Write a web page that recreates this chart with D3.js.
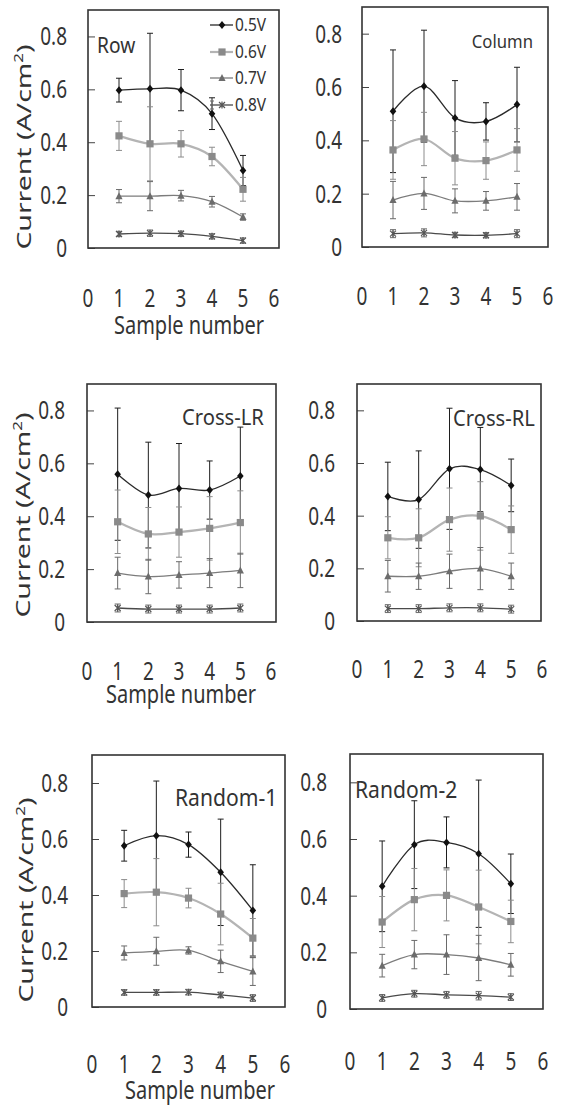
<!DOCTYPE html>
<html><head><meta charset="utf-8">
<script src="https://cdn.jsdelivr.net/npm/d3@7"></script>
<style>body{margin:0;background:#fff} svg{display:block}</style>
</head><body>
<svg id="chart" width="561" height="1108"></svg>
<script>
// ---------------- data ----------------
const samples = [1, 2, 3, 4, 5];
const seriesNames = ["0.5V", "0.6V", "0.7V", "0.8V"];
const xTickValues = [0, 1, 2, 3, 4, 5, 6];
const yTickValues = [0, 0.2, 0.4, 0.6, 0.8];
const yTickLabels = ["0", "0.2", "0.4", "0.6", "0.8"];
const panelNames = ["Row", "Column", "Cross-LR", "Cross-RL", "Random-1", "Random-2"];

const rowMeans = [
  [0.597, 0.602, 0.597, 0.508, 0.293],
  [0.424, 0.394, 0.394, 0.346, 0.222],
  [0.196, 0.196, 0.198, 0.175, 0.117],
  [0.053, 0.056, 0.054, 0.044, 0.028]];
const rowErrors = [
  [0.045, 0.21, 0.078, 0.06, 0.057],
  [0.055, 0.14, 0.05, 0.035, 0.045],
  [0.025, 0.055, 0.02, 0.02, 0.012],
  [0.01, 0.012, 0.01, 0.01, 0.01]];

const columnMeans = [
  [0.509, 0.603, 0.484, 0.471, 0.534],
  [0.364, 0.405, 0.333, 0.324, 0.364],
  [0.176, 0.201, 0.173, 0.173, 0.188],
  [0.050, 0.053, 0.045, 0.044, 0.050]];
const columnErrors = [
  [0.23, 0.21, 0.14, 0.07, 0.14],
  [0.11, 0.10, 0.10, 0.07, 0.08],
  [0.07, 0.06, 0.045, 0.035, 0.05],
  [0.015, 0.015, 0.01, 0.01, 0.015]];

const crossLRMeans = [
  [0.559, 0.480, 0.505, 0.499, 0.552],
  [0.379, 0.333, 0.340, 0.354, 0.376],
  [0.185, 0.172, 0.178, 0.185, 0.195],
  [0.053, 0.049, 0.049, 0.049, 0.053]];
const crossLRErrors = [
  [0.25, 0.20, 0.17, 0.11, 0.185],
  [0.12, 0.10, 0.095, 0.12, 0.12],
  [0.06, 0.065, 0.05, 0.055, 0.065],
  [0.015, 0.015, 0.015, 0.015, 0.015]];

const crossRLMeans = [
  [0.473, 0.461, 0.578, 0.575, 0.515],
  [0.316, 0.316, 0.385, 0.399, 0.347],
  [0.170, 0.170, 0.189, 0.199, 0.170],
  [0.047, 0.047, 0.050, 0.050, 0.045]];
const crossRLErrors = [
  [0.13, 0.185, 0.23, 0.16, 0.10],
  [0.08, 0.11, 0.12, 0.13, 0.09],
  [0.06, 0.05, 0.065, 0.08, 0.05],
  [0.015, 0.015, 0.015, 0.015, 0.015]];

const random1Means = [
  [0.576, 0.612, 0.580, 0.481, 0.345],
  [0.405, 0.410, 0.389, 0.332, 0.246],
  [0.193, 0.199, 0.202, 0.163, 0.127],
  [0.052, 0.052, 0.053, 0.043, 0.032]];
const random1Errors = [
  [0.055, 0.195, 0.045, 0.19, 0.163],
  [0.05, 0.12, 0.035, 0.11, 0.07],
  [0.025, 0.05, 0.013, 0.04, 0.05],
  [0.01, 0.01, 0.01, 0.01, 0.012]];

const random2Means = [
  [0.433, 0.580, 0.588, 0.548, 0.442],
  [0.307, 0.386, 0.401, 0.360, 0.309],
  [0.153, 0.192, 0.192, 0.180, 0.156],
  [0.039, 0.054, 0.050, 0.047, 0.042]];
const random2Errors = [
  [0.16, 0.155, 0.09, 0.26, 0.105],
  [0.09, 0.11, 0.09, 0.13, 0.075],
  [0.04, 0.05, 0.07, 0.08, 0.04],
  [0.012, 0.012, 0.012, 0.015, 0.012]];

const panelMeans = [rowMeans, columnMeans, crossLRMeans, crossRLMeans, random1Means, random2Means];
const panelErrors = [rowErrors, columnErrors, crossLRErrors, crossRLErrors, random1Errors, random2Errors];

// ---------------- layout (positions / styles) ----------------
const layout = [
  {x0: 88,  x6: 274, right: 279, yBot: 248, yTop: 10,  tickR: 67,  xLab: 307,  title: {x: 31, y: 147},  sample: {x: 189, y: 334}, lab: {x: 97,  y: 53,  size: 19.2, anchor: "start"}},
  {x0: 362, x6: 548, right: 548, yBot: 247, yTop: 7,   tickR: 342, xLab: 305,  title: null, sample: null, lab: {x: 533, y: 48,  size: 16.7, anchor: "end"}},
  {x0: 87,  x6: 271, right: 276, yBot: 622, yTop: 384, tickR: 65,  xLab: 680,  title: {x: 30, y: 515},  sample: {x: 181, y: 703}, lab: {x: 182, y: 425, size: 20.2, anchor: "start"}},
  {x0: 357, x6: 542, right: 541, yBot: 621, yTop: 384, tickR: 335, xLab: 678,  title: null, sample: null, lab: {x: 453, y: 426, size: 20.2, anchor: "start"}},
  {x0: 92,  x6: 285, right: 285, yBot: 1007, yTop: 755, tickR: 68, xLab: 1073, title: {x: 33, y: 900}, sample: {x: 200, y: 1099}, lab: {x: 175, y: 806, size: 21.1, anchor: "start"}},
  {x0: 350, x6: 543, right: 543, yBot: 1009, yTop: 754, tickR: 327, xLab: 1070, title: null, sample: null, lab: {x: 355, y: 798, size: 21.1, anchor: "start"}}
];

const FONT = "'Noto Sans', 'Open Sans', sans-serif";
const TXT = "#333";
const seriesStyle = [
  {line: "#2a2a2a", lw: 1.3, bar: "#1e1e1e", marker: "diamond",  fill: "#111"},
  {line: "#b4b4b4", lw: 2.2, bar: "#8c8c8c", marker: "square",   fill: "#8a8a8a"},
  {line: "#7c7c7c", lw: 1.3, bar: "#6a6a6a", marker: "triangle", fill: "#6c6c6c"},
  {line: "#4a4a4a", lw: 1.3, bar: "#6a6a6a", marker: "star",     fill: "#555"}
];

const svg = d3.select("#chart");

function stretchedText(g, x, y, str, size, sy, anchor) {
  return g.append("text")
    .attr("transform", `translate(${x},${y}) scale(1,${sy})`)
    .attr("text-anchor", anchor)
    .attr("font-family", FONT)
    .attr("font-size", size)
    .attr("fill", TXT)
    .text(str);
}

function drawMarker(g, type, x, y, st) {
  if (type === "diamond") {
    g.append("path").attr("d", `M${x},${y-4}L${x+3.3},${y}L${x},${y+4}L${x-3.3},${y}Z`).attr("fill", st.fill);
  } else if (type === "square") {
    g.append("rect").attr("x", x - 3.6).attr("y", y - 3.6).attr("width", 7.2).attr("height", 7.2).attr("fill", st.fill);
  } else if (type === "triangle") {
    g.append("path").attr("d", `M${x},${y-4}L${x+3.6},${y+3}L${x-3.6},${y+3}Z`).attr("fill", st.fill);
  } else {
    const s = 3;
    g.append("path")
      .attr("d", `M${x-s},${y-s}L${x+s},${y+s}M${x-s},${y+s}L${x+s},${y-s}M${x},${y-s-0.5}L${x},${y+s+0.5}`)
      .attr("stroke", st.fill).attr("stroke-width", 1.2).attr("fill", "none");
  }
}

panelNames.forEach((name, p) => {
  const L = layout[p];
  const means = panelMeans[p];
  const errs = panelErrors[p];
  const x = d3.scaleLinear().domain([0, 6]).range([L.x0, L.x6]);
  const y = d3.scaleLinear().domain([0, 0.9]).range([L.yBot, L.yTop]);
  const g = svg.append("g");

  const clipId = "clip" + p;
  svg.append("clipPath").attr("id", clipId)
    .append("rect").attr("x", L.x0).attr("y", L.yTop).attr("width", L.right - L.x0).attr("height", L.yBot - L.yTop);

  // y axis ticks (inside) via d3 axis
  const yAxis = d3.axisRight(y).tickValues(yTickValues).tickSize(7).tickFormat("");
  const ya = g.append("g").attr("transform", `translate(${L.x0},0)`).call(yAxis);
  ya.select(".domain").remove();
  ya.selectAll(".tick line").attr("stroke", "#444").attr("stroke-width", 1);

  // y tick labels
  yTickValues.forEach((v, i) => {
    stretchedText(g, L.tickR, y(v) + 9, yTickLabels[i], 19, 1.32, "end");
  });
  // x tick labels (detached below plot)
  xTickValues.forEach(v => {
    stretchedText(g, x(v), L.xLab, String(v), 19, 1.32, "middle");
  });

  const plot = g.append("g").attr("clip-path", `url(#${clipId})`);
  const line = d3.line().x((d, i) => x(samples[i])).y(d => y(d)).curve(d3.curveCardinal.tension(0));

  // error bars
  means.forEach((ser, s) => {
    const st = seriesStyle[s];
    ser.forEach((m, i) => {
      const e = errs[s][i];
      const cx = x(samples[i]);
      const yt = y(m + e), yb = y(m - e);
      plot.append("path")
        .attr("d", `M${cx},${yt}L${cx},${yb}M${cx-3},${yt}L${cx+3},${yt}M${cx-3},${yb}L${cx+3},${yb}`)
        .attr("stroke", st.bar).attr("stroke-width", 1).attr("fill", "none");
    });
  });
  // lines
  means.forEach((ser, s) => {
    const st = seriesStyle[s];
    plot.append("path").attr("d", line(ser)).attr("fill", "none")
      .attr("stroke", st.line).attr("stroke-width", st.lw);
  });
  // markers
  means.forEach((ser, s) => {
    const st = seriesStyle[s];
    ser.forEach((m, i) => drawMarker(plot, st.marker, x(samples[i]), y(m), st));
  });

  // frame
  g.append("rect").attr("x", L.x0).attr("y", L.yTop).attr("width", L.right - L.x0).attr("height", L.yBot - L.yTop)
    .attr("fill", "none").attr("stroke", "#333").attr("stroke-width", 1.6);

  // panel label
  stretchedText(g, L.lab.x, L.lab.y, name, L.lab.size, 1.1, L.lab.anchor);

  // axis titles
  if (L.title) {
    const t = g.append("text")
      .attr("transform", `translate(${L.title.x},${L.title.y}) rotate(-90) scale(1.42,1)`)
      .attr("text-anchor", "middle").attr("font-family", FONT).attr("font-size", 20).attr("fill", TXT);
    t.append("tspan").text("Current (A/cm");
    t.append("tspan").attr("font-size", 12).attr("dy", -8).text("2");
    t.append("tspan").attr("dy", 8).text(")");
  }
  if (L.sample) {
    stretchedText(g, L.sample.x, L.sample.y, "Sample number", 20, 1.3, "middle");
  }

  // legend (first panel only)
  if (p === 0) {
    const lg = g.append("g");
    const legY = [25, 52, 78, 105];
    seriesNames.forEach((nm, s) => {
      const st = seriesStyle[s];
      const yy = legY[s];
      lg.append("line").attr("x1", 210).attr("x2", 233).attr("y1", yy).attr("y2", yy)
        .attr("stroke", st.line).attr("stroke-width", st.lw);
      if (s === 3) {
        lg.append("path").attr("d", `M212,${yy-4}L212,${yy+4}M210,${yy-4}L214,${yy-4}M210,${yy+4}L214,${yy+4}`)
          .attr("stroke", st.bar).attr("stroke-width", 1).attr("fill", "none");
      }
      drawMarker(lg, st.marker, 222, yy, st);
      stretchedText(lg, 235, yy + 6, nm, 15.5, 1.12, "start");
    });
  }
});
</script>
</body></html>
